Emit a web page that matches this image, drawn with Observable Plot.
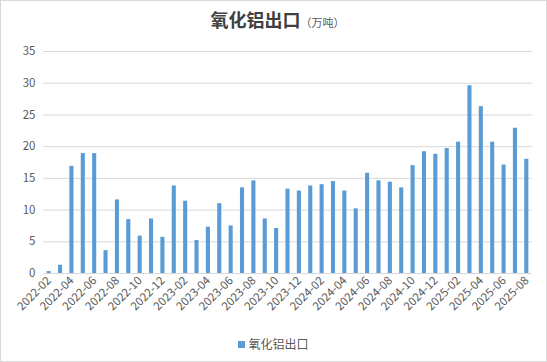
<!DOCTYPE html>
<html>
<head>
<meta charset="utf-8">
<script src="https://cdn.jsdelivr.net/npm/d3@7"></script>
<script src="https://cdn.jsdelivr.net/npm/@observablehq/plot@0.6"></script>
<style>
  html, body { margin: 0; padding: 0; background: #fff; }
  #wrap { position: relative; width: 547px; height: 362px; box-sizing: border-box; border: 1px solid #d9d9d9; font-family: "Noto Sans CJK SC", "Noto Sans", sans-serif; overflow: hidden; }
  #title { position: absolute; left: 0; top: 5px; width: 100%; text-align: center; white-space: nowrap; }
  #title .main { font-size: 18px; font-weight: bold; color: #404040; margin-left: 8px; }
  #title .unit { font-size: 11px; color: #595959; }
  #chart { position: absolute; left: -1px; top: -1px; width: 547px; }
  #chart svg { max-width: none !important; }
  #legend { position: absolute; left: 0; top: 334px; width: 100%; text-align: center; font-size: 12px; color: #595959; }
  #legend .sw { display: inline-block; width: 7px; height: 7px; background: #5B9BD5; margin-right: 3px; vertical-align: 1px; }
</style>
</head>
<body>
<div id="wrap">
  <div id="title"><span class="main">氧化铝出口</span><span class="unit">（万吨）</span></div>
  <div id="chart"></div>
  <div id="legend"><span class="sw"></span>氧化铝出口</div>
</div>
<script>
const months = [
  "2022-02","2022-03","2022-04","2022-05","2022-06","2022-07","2022-08","2022-09","2022-10","2022-11","2022-12",
  "2023-01","2023-02","2023-03","2023-04","2023-05","2023-06","2023-07","2023-08","2023-09","2023-10","2023-11","2023-12",
  "2024-01","2024-02","2024-03","2024-04","2024-05","2024-06","2024-07","2024-08","2024-09","2024-10","2024-11","2024-12",
  "2025-01","2025-02","2025-03","2025-04","2025-05","2025-06","2025-07","2025-08"
];
const values = [
  0.3, 1.3, 16.9, 18.9, 18.9, 3.6, 11.6, 8.5, 5.9, 8.6, 5.7,
  13.8, 11.4, 5.2, 7.3, 11.0, 7.5, 13.5, 14.6, 8.6, 7.1, 13.3, 13.0,
  13.8, 14.0, 14.5, 13.0, 10.2, 15.8, 14.6, 14.4, 13.5, 17.0, 19.2, 18.8,
  19.7, 20.7, 29.6, 26.3, 20.7, 17.1, 22.9, 18.0
];
const xTickLabels = [
  "2022-02","2022-04","2022-06","2022-08","2022-10","2022-12",
  "2023-02","2023-04","2023-06","2023-08","2023-10","2023-12",
  "2024-02","2024-04","2024-06","2024-08","2024-10","2024-12",
  "2025-02","2025-04","2025-06","2025-08"
];
const yTicks = [0, 5, 10, 15, 20, 25, 30, 35];

const data = months.map((m, i) => ({month: m, value: values[i]}));

const chart = Plot.plot({
  width: 547,
  height: 362,
  marginTop: 51,
  marginBottom: 89,
  marginLeft: 43,
  marginRight: 15,
  style: {fontFamily: '"Noto Sans CJK SC", "Noto Sans", sans-serif', fontSize: "11px", color: "#595959", background: "transparent"},
  x: {domain: months, paddingInner: 0.64, paddingOuter: 0.32, align: 0.5, round: false},
  y: {domain: [0, 35]},
  marks: [
    Plot.gridY(yTicks, {stroke: "#d9d9d9", strokeOpacity: 1}),
    Plot.barY(data, {x: "month", y: "value", fill: "#5B9BD5"}),
    Plot.ruleY([0], {stroke: "#d9d9d9"}),
    Plot.axisY({ticks: yTicks, tickSize: 0, tickPadding: 8, label: null, fontSize: 11.5, fill: "#595959"}),
    Plot.axisX({ticks: xTickLabels, tickSize: 0, tickPadding: 5, tickRotate: -45, label: null, fontSize: 11.5, fill: "#595959"})
  ]
});
document.getElementById("chart").appendChild(chart);
</script>
</body>
</html>
